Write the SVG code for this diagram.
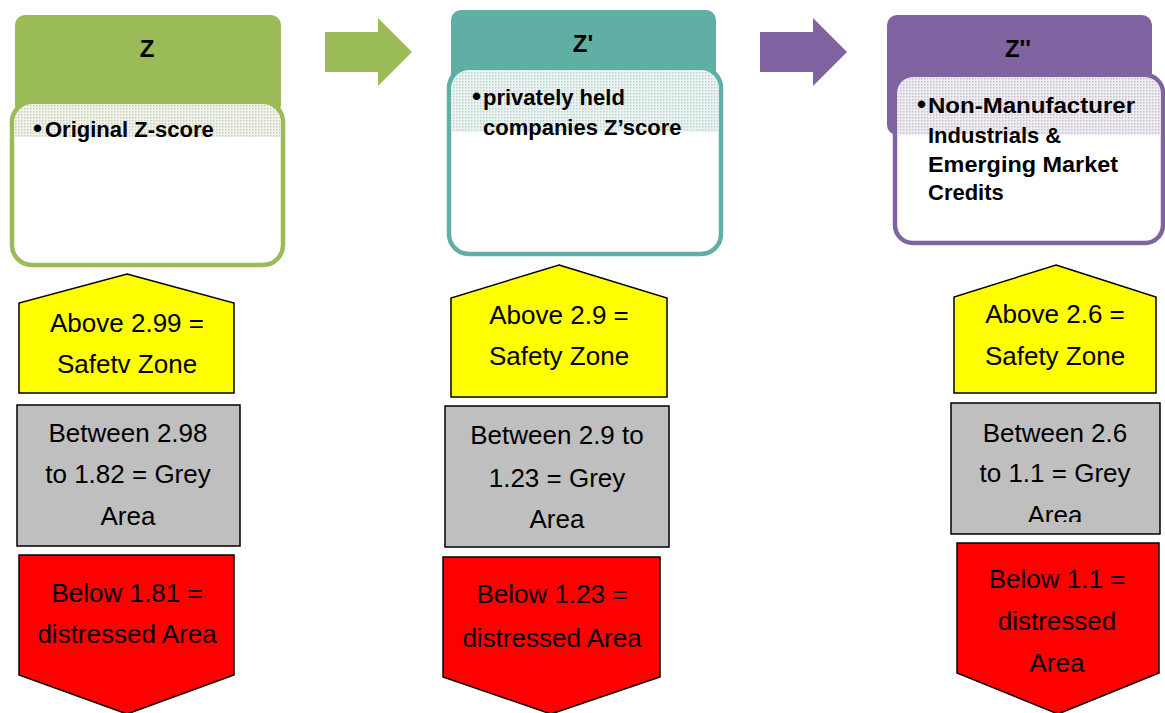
<svg xmlns="http://www.w3.org/2000/svg" width="1165" height="713" viewBox="0 0 1165 713">
  <defs>
    <style>
      .hdr { font-family: "Liberation Sans", Arial, sans-serif; font-weight: bold; font-size: 24px; fill: #000; text-anchor: middle; }
      .body { font-family: "Liberation Sans", Arial, sans-serif; font-weight: bold; font-size: 22px; fill: #000; }
      .bul { font-size: 26px; }
      .zone { font-family: "Liberation Sans", Arial, sans-serif; font-size: 26px; fill: #000; text-anchor: middle; }
      .card { fill: #fff; stroke-width: 4.5; }
      .shape { stroke: #000; stroke-width: 1.5; }
      .yellow { fill: #FFFF00; }
      .grey { fill: #BFBFBF; }
      .red { fill: #FF0000; }
    </style>
    <pattern id="dotsG" width="3" height="3" patternUnits="userSpaceOnUse">
      <rect width="3" height="3" fill="#f1f3ec"/>
      <rect width="1.5" height="1.5" fill="#c8cfb8"/>
    </pattern>
    <pattern id="dotsT" width="3" height="3" patternUnits="userSpaceOnUse">
      <rect width="3" height="3" fill="#ecf4f3"/>
      <rect width="1.5" height="1.5" fill="#bcd3cf"/>
    </pattern>
    <pattern id="dotsP" width="3" height="3" patternUnits="userSpaceOnUse">
      <rect width="3" height="3" fill="#efedf2"/>
      <rect width="1.5" height="1.5" fill="#c7c0cf"/>
    </pattern>
    <clipPath id="clipGrey3">
      <rect x="951" y="403" width="209" height="119"/>
    </clipPath>
  </defs>

  <g id="connectors">
    <polygon points="325,32 378,32 378,18 412,52 378,86 378,72 325,72" fill="#9BBB59"/>
    <polygon points="760,32 813,32 813,18 847,52 813,86 813,72 760,72" fill="#8064A2"/>
  </g>

  <g id="node-z">
    <rect x="15" y="15" width="266" height="100" rx="10" fill="#9BBB59"/>
    <text class="hdr" x="147" y="57">Z</text>
    <rect class="card" x="12" y="102" width="271" height="163" rx="20" stroke="#9BBB59"/>
    <path d="M14.5,122 A18,18 0 0 1 32,104.5 L263,104.5 A18,18 0 0 1 280.5,122 L280.5,137 L14.5,137 Z" fill="url(#dotsG)"/>
    <text class="body" y="137"><tspan class="bul" x="33">•</tspan><tspan x="45">Original Z-score</tspan></text>
  </g>

  <g id="node-z1">
    <rect x="451" y="10" width="265" height="80" rx="10" fill="#5FAFA5"/>
    <text class="hdr" x="583" y="52">Z'</text>
    <rect class="card" x="449" y="68" width="272" height="186" rx="20" stroke="#5FAFA5"/>
    <path d="M451.5,88 A18,18 0 0 1 469,70.5 L701,70.5 A18,18 0 0 1 718.5,88 L718.5,132 L451.5,132 Z" fill="url(#dotsT)"/>
    <text class="body"><tspan class="bul" x="472" y="105">•</tspan><tspan x="483" y="105">privately held</tspan><tspan x="483" y="135">companies Z’score</tspan></text>
  </g>

  <g id="node-z2">
    <rect x="887" y="15" width="265" height="120" rx="10" fill="#8064A2"/>
    <text class="hdr" x="1018" y="57">Z''</text>
    <rect class="card" x="895" y="75" width="268" height="168" rx="18" stroke="#8064A2"/>
    <path d="M897.5,94 A16,16 0 0 1 913,77.5 L1145,77.5 A16,16 0 0 1 1160.5,94 L1160.5,135 L897.5,135 Z" fill="url(#dotsP)"/>
    <text class="body"><tspan class="bul" x="917" y="113">•</tspan><tspan x="928" y="113" textLength="207" lengthAdjust="spacingAndGlyphs">Non-Manufacturer</tspan><tspan x="928" y="143">Industrials &amp;</tspan><tspan x="928" y="172" textLength="190" lengthAdjust="spacingAndGlyphs">Emerging Market</tspan><tspan x="928" y="200">Credits</tspan></text>
  </g>

  <g id="z-safe">
    <polygon class="shape yellow" points="127,274 234,303 234,393 19,393 19,303"/>
    <text class="zone" x="127" y="332">Above 2.99 =</text>
    <text class="zone" x="127" y="373">Safetv Zone</text>
  </g>
  <g id="z-grey">
    <rect class="shape grey" x="17" y="405" width="223" height="141"/>
    <text class="zone" x="128" y="442">Between 2.98</text>
    <text class="zone" x="128" y="483">to 1.82 = Grey</text>
    <text class="zone" x="128" y="525">Area</text>
  </g>
  <g id="z-red">
    <polygon class="shape red" points="19,555 234,555 234,675 127,714 19,675"/>
    <text class="zone" x="127" y="602">Below 1.81 =</text>
    <text class="zone" x="127" y="643">distressed Area</text>
  </g>

  <g id="z1-safe">
    <polygon class="shape yellow" points="559,265 667,298 667,397 451,397 451,298"/>
    <text class="zone" x="559" y="324">Above 2.9 =</text>
    <text class="zone" x="559" y="365">Safety Zone</text>
  </g>
  <g id="z1-grey">
    <rect class="shape grey" x="445" y="406" width="224" height="141"/>
    <text class="zone" x="557" y="444">Between 2.9 to</text>
    <text class="zone" x="557" y="487">1.23 = Grey</text>
    <text class="zone" x="557" y="528">Area</text>
  </g>
  <g id="z1-red">
    <polygon class="shape red" points="443,557 660,557 660,677 551,714 443,677"/>
    <text class="zone" x="552" y="603">Below 1.23 =</text>
    <text class="zone" x="552" y="647">distressed Area</text>
  </g>

  <g id="z2-safe">
    <polygon class="shape yellow" points="1056,265 1156,297 1156,393 954,393 954,297"/>
    <text class="zone" x="1055" y="323">Above 2.6 =</text>
    <text class="zone" x="1055" y="365">Safety Zone</text>
  </g>
  <g id="z2-grey">
    <rect class="shape grey" x="951" y="403" width="209" height="131"/>
    <text class="zone" x="1055" y="442">Between 2.6</text>
    <text class="zone" x="1055" y="482">to 1.1 = Grey</text>
    <text class="zone" x="1055" y="524" clip-path="url(#clipGrey3)">Area</text>
  </g>
  <g id="z2-red">
    <polygon class="shape red" points="957,543 1159,543 1159,673 1058,714 957,673"/>
    <text class="zone" x="1057" y="588">Below 1.1 =</text>
    <text class="zone" x="1057" y="630">distressed</text>
    <text class="zone" x="1057" y="672">Area</text>
  </g>
</svg>
